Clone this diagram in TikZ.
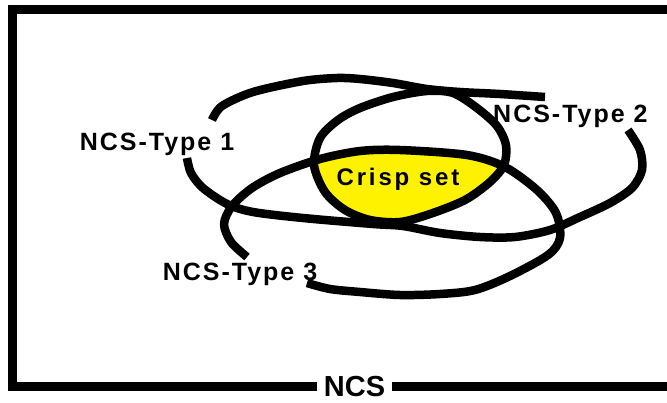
\documentclass[tikz,border=0pt]{standalone}
\usepackage{fontspec}
\setmainfont{Liberation Sans}
\begin{document}
\begin{tikzpicture}[x=1pt,y=-1pt,
  curve/.style={line width=8.5pt, line join=round},
  lbl/.style={font=\fontsize{25}{30}\selectfont\bfseries\addfontfeature{LetterSpace=8}, inner sep=0pt},
]
\useasboundingbox (0,0) rectangle (667,402);
\clip (0,0) rectangle (667,402);
% yellow crisp set = circle ∩ ellipse 3
\begin{scope}
\clip plot[smooth cycle] coordinates {(314,165) (320,138) (338,120) (360,108) (393,97) (427,91) (453,93) (477,108) (497,126) (506,145) (504,165) (490,182) (465,200) (430,214) (400,222) (370,220) (345,210) (325,192)};
\fill[yellow] plot[smooth cycle] coordinates {(247,257) (231,242) (224,224) (232,206) (252,188) (280,173) (320,159) (360,151) (400,150) (467,155) (505,167) (537,190) (556,213) (560,238) (548,255) (510,276) (475,290) (440,294) (400,295) (360,292) (330,289) (307,283)};
\end{scope}
% frame
\draw[line width=9pt] (12.5,386.5) rectangle (720,9.5);
% ellipse 1 (NCS-Type 1), two open pieces
\draw[curve] plot[smooth] coordinates {(212,120) (222,106) (253,92) (303,81) (337,78) (360,79) (393,83) (427,89) (460,92) (500,94) (545,97)};
\draw[curve] plot[smooth] coordinates {(628,130) (640,150) (642,170) (632,188) (610,203) (580,217) (550,230) (515,237) (480,237) (440,233) (403,226) (373,224) (303,218) (253,212) (227,204) (203,188) (191,173) (187,158)};
% circle (NCS-Type 2)
\draw[curve] plot[smooth cycle] coordinates {(314,165) (320,138) (338,120) (360,108) (393,97) (427,91) (453,93) (477,108) (497,126) (506,145) (504,165) (490,182) (465,200) (430,214) (400,222) (370,220) (345,210) (325,192)};
% ellipse 3 (NCS-Type 3)
\draw[curve] plot[smooth] coordinates {(247,257) (231,242) (224,224) (232,206) (252,188) (280,173) (320,159) (360,151) (400,150) (467,155) (505,167) (537,190) (556,213) (560,238) (548,255) (510,276) (475,290) (440,294) (400,295) (360,292) (330,289) (307,283)};
% labels
\node[lbl, anchor=base] (t1) at (157,150) {NCS-Type 1};
\node[lbl, anchor=base west] (t2) at (493,122) {NCS-Type 2};
\node[lbl, anchor=base] (t3) at (240,280) {NCS-Type 3};
\node[font=\fontsize{24}{28}\selectfont\bfseries\addfontfeature{LetterSpace=12}, anchor=base, inner sep=0pt] (crisp) at (398,185) {Crisp set};
\node[font=\fontsize{29}{34}\selectfont\bfseries, anchor=base, fill=white, inner xsep=7pt, inner ysep=0pt] (ncs) at (354.5,396.5) {NCS};
\end{tikzpicture}
\end{document}
